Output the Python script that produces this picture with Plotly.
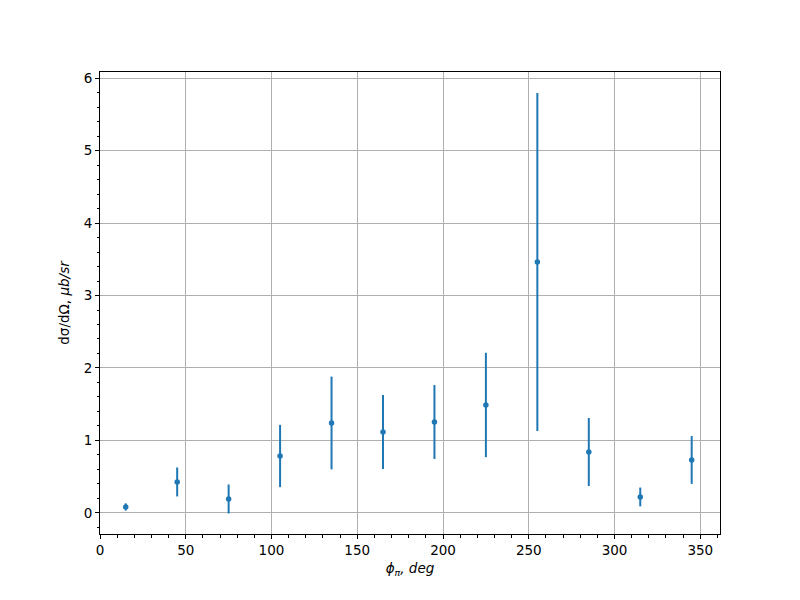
import plotly.graph_objects as go

phi = [15, 45, 75, 105, 135, 165, 195, 225, 255, 285, 315, 345]
xsec = [0.083, 0.428, 0.193, 0.786, 1.241, 1.117, 1.255, 1.490, 3.462, 0.841, 0.221, 0.731]
err = [0.05, 0.20, 0.20, 0.43, 0.64, 0.51, 0.51, 0.72, 2.33, 0.47, 0.13, 0.33]

x_ticks = [0, 50, 100, 150, 200, 250, 300, 350]
y_ticks = [0, 1, 2, 3, 4, 5, 6]

color = "#1f77b4"
fig = go.Figure()
fig.add_trace(go.Scatter(
    x=phi, y=xsec, mode="markers",
    marker=dict(color=color, size=5.5),
    error_y=dict(type="data", array=err, visible=True, color=color, thickness=2, width=0),
    showlegend=False,
))

font = dict(family="DejaVu Sans", size=13.5, color="black")
axis_common = dict(
    showline=True, linecolor="black", linewidth=1, mirror=True,
    ticks="outside", ticklen=4, tickwidth=1, tickcolor="black",
    showgrid=True, gridcolor="#b0b0b0", gridwidth=1, zeroline=False,
    tickfont=font, automargin=False,
)
fig.update_xaxes(
    range=[0, 361.5], tickvals=x_ticks, ticktext=[str(v) for v in x_ticks],
    minor=dict(dtick=10, tick0=0, ticks="outside", ticklen=2.5, tickcolor="black", showgrid=False),
    title=dict(text="<i>ϕ<sub>π</sub>, deg</i>", font=font, standoff=6),
    **axis_common,
)
fig.update_yaxes(
    range=[-0.29, 6.083], tickvals=y_ticks, ticktext=[str(v) for v in y_ticks],
    minor=dict(dtick=0.2, tick0=0, ticks="outside", ticklen=2.5, tickcolor="black", showgrid=False),
    title=dict(text="dσ/dΩ, <i>μb/sr</i>", font=font, standoff=10),
    **axis_common,
)
fig.update_layout(
    width=792, height=592,
    margin=dict(l=92, r=80, t=64, b=66, autoexpand=False),
    plot_bgcolor="white", paper_bgcolor="white",
    font=font,
)
fig.write_html("out.html")
